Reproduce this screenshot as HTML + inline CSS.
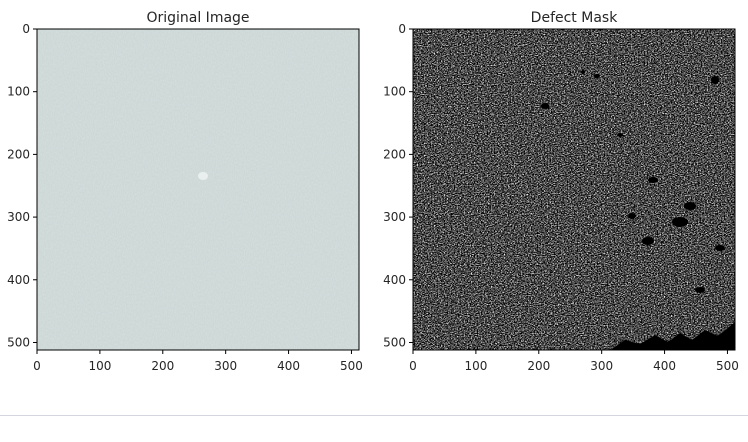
<!DOCTYPE html>
<html><head><meta charset="utf-8"><style>
html,body{margin:0;padding:0;background:#fff;width:748px;height:442px;overflow:hidden}
svg text{font-family:"DejaVu Sans","Liberation Sans",sans-serif;fill:#262626}
</style></head><body>
<svg width="748" height="442" viewBox="0 0 748 442">
<defs>
<filter id="fabric" x="0" y="0" width="100%" height="100%" color-interpolation-filters="sRGB">
<feTurbulence type="fractalNoise" baseFrequency="0.9 0.5" numOctaves="2" seed="3"/>
<feColorMatrix type="matrix" values="0 0 0 0 0.92  0 0 0 0 0.95  0 0 0 0 0.95  0.5 0 0 0 -0.15"/>
</filter>
<filter id="mask" x="0" y="0" width="100%" height="100%" color-interpolation-filters="sRGB">
<feTurbulence type="fractalNoise" baseFrequency="0.7 0.9" numOctaves="2" seed="7" result="n"/>
<feColorMatrix in="n" type="matrix" values="0.33 0.33 0.33 0 0  0.33 0.33 0.33 0 0  0.33 0.33 0.33 0 0  0 0 0 0 1"/>
<feComponentTransfer>
<feFuncR type="linear" slope="4" intercept="-1.7"/>
<feFuncG type="linear" slope="4" intercept="-1.7"/>
<feFuncB type="linear" slope="4" intercept="-1.7"/>
</feComponentTransfer>
</filter>
</defs>
<g id="left">
<text x="198" y="22" font-size="14" text-anchor="middle">Original Image</text>
<rect x="37" y="29" width="322" height="321" fill="#ccd7d6"/>
<rect x="37" y="29" width="322" height="321" fill="#fff" filter="url(#fabric)"/>
<ellipse cx="203" cy="176" rx="5" ry="4" fill="#e9efef"/>
<rect x="37" y="29" width="322" height="321" fill="none" stroke="#000" stroke-width="1"/>
</g>
<g id="right">
<text x="574" y="22" font-size="14" text-anchor="middle">Defect Mask</text>
<rect x="413" y="29" width="322" height="321" fill="#000"/>
<rect x="413" y="29" width="322" height="321" fill="#fff" filter="url(#mask)"/>
<g fill="#000">
<path d="M610 350 L625 340 L640 344 L655 335 L668 342 L680 333 L692 340 L705 330 L718 336 L735 322 L735 350 Z"/>
<ellipse cx="680" cy="222" rx="8" ry="5"/><ellipse cx="648" cy="241" rx="6" ry="4"/>
<ellipse cx="690" cy="206" rx="6" ry="4"/><ellipse cx="715" cy="80" rx="4" ry="4"/>
<ellipse cx="545" cy="106" rx="4" ry="3"/><ellipse cx="597" cy="76" rx="3" ry="2"/>
<ellipse cx="653" cy="180" rx="5" ry="3"/><ellipse cx="632" cy="216" rx="4" ry="3"/>
<ellipse cx="720" cy="248" rx="5" ry="3"/><ellipse cx="700" cy="290" rx="5" ry="3"/>
<ellipse cx="583" cy="72" rx="2" ry="2"/><ellipse cx="620" cy="135" rx="3" ry="2"/>
</g>
<rect x="413" y="29" width="322" height="321" fill="none" stroke="#000" stroke-width="1"/>
</g>
<g id="axes"></g>
<line x1="0" y1="415.5" x2="748" y2="415.5" stroke="#d5d5e0" stroke-width="1"/>
</svg>
<script>
const tickValues=[0,100,200,300,400,500];
const imgSize=512;
const panels=[{x0:37,name:'left'},{x0:413,name:'right'}];
const g=document.getElementById('axes');
const NS='http://www.w3.org/2000/svg';
function sx(x0,v){return x0+v*322/imgSize;}
function sy(v){return 29+v*321/imgSize;}
panels.forEach(p=>{
  tickValues.forEach(v=>{
    const X=sx(p.x0,v), Y=sy(v);
    let l=document.createElementNS(NS,'line');
    l.setAttribute('x1',X);l.setAttribute('x2',X);l.setAttribute('y1',350);l.setAttribute('y2',354);l.setAttribute('stroke','#000');
    
    
    g.appendChild(l);
    let t=document.createElementNS(NS,'text');
    t.setAttribute('x',X);t.setAttribute('y',370);t.setAttribute('font-size','12');t.setAttribute('text-anchor','middle');
    t.textContent=v;
    
    
    g.appendChild(t);
    let l2=document.createElementNS(NS,'line');
    l2.setAttribute('x1',p.x0-4);l2.setAttribute('x2',p.x0);l2.setAttribute('y1',Y);l2.setAttribute('y2',Y);l2.setAttribute('stroke','#000');
    
    
    g.appendChild(l2);
    let t2=document.createElementNS(NS,'text');
    t2.setAttribute('x',p.x0-7);t2.setAttribute('y',Y+4);t2.setAttribute('font-size','12');t2.setAttribute('text-anchor','end');
    t2.textContent=v;
    
    
    g.appendChild(t2);
  });
});
</script>
</body></html>
